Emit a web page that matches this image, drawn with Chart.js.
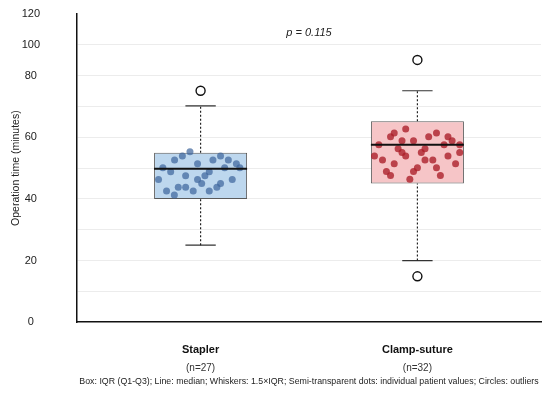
<!DOCTYPE html>
<html>
<head>
<meta charset="utf-8">
<script src="https://cdn.jsdelivr.net/npm/chart.js@4/dist/chart.umd.min.js"></script>
<style>
  body { margin: 0; background: #fff; }
  canvas { display: block; }
</style>
</head>
<body>
<canvas id="chart" width="550" height="393"></canvas>
<script>
var categories = ["Stapler", "Clamp-suture"];
var groupSizes = ["(n=27)", "(n=32)"];
var q1 = [40, 45];
var medians = [49.8, 57.6];
var q3 = [55, 65.2];
var whiskerLow = [25, 20];
var whiskerHigh = [70.2, 75.1];
var outliers = [[75.1], [85.1, 14.9]];

var staplerValues = [55.3, 53.9, 52.6, 50.1, 48.8, 46.3, 42.6, 41.3, 43.8, 43.8, 47.5, 42.6, 51.4, 46.3,
  45.0, 47.5, 48.8, 42.6, 52.6, 43.8, 45.0, 53.9, 50.1, 52.6, 46.3, 51.4, 50.1];
var staplerJitter = [-0.049, -0.084, -0.120, -0.174, -0.138, -0.194, -0.157, -0.121, -0.103, -0.069, -0.069,
  -0.034, -0.014, -0.014, 0.005, 0.020, 0.040, 0.040, 0.057, 0.075, 0.092, 0.092, 0.111, 0.128, 0.146, 0.165, 0.181];
var clampValues = [62.7, 61.4, 60.2, 57.6, 53.9, 52.6, 48.9, 47.6, 51.4, 56.3, 55.1, 53.9, 58.9, 58.9, 48.9,
  50.1, 46.4, 55.1, 56.3, 52.6, 60.2, 52.6, 61.4, 50.1, 47.6, 57.6, 60.2, 58.9, 53.9, 51.4, 55.1, 57.6];
var clampJitter = [-0.054, -0.107, -0.124, -0.178, -0.198, -0.161, -0.143, -0.124, -0.107, -0.089, -0.071,
  -0.054, -0.071, -0.018, -0.018, 0, -0.035, 0.018, 0.035, 0.035, 0.052, 0.071, 0.088, 0.088, 0.106, 0.123,
  0.141, 0.160, 0.141, 0.176, 0.195, 0.195];

var yTickValues = [0, 20, 40, 60, 80, 90, 100];
var yTickLabels = ["0", "20", "40", "60", "80", "100", "120"];
var pValueText = "p = 0.115";
var pValueAt = { x: 1.5, y: 93.8 };
var footnote = "Box: IQR (Q1-Q3); Line: median; Whiskers: 1.5\u00d7IQR; Semi-transparent dots: individual patient values; Circles: outliers";

var boxWidth = 0.429;
var capHalf = 0.07;
var fontFamily = "'Liberation Sans', Arial, Helvetica, sans-serif";

function groupPositions() {
  return categories.map(function(c, i) { return i + 1; });
}

function jitterPoints(values, jitter, center) {
  return values.map(function(v, i) { return { x: center + jitter[i], y: v }; });
}

var positions = groupPositions();
var datasets = [];

datasets.push({
  type: "bar",
  data: positions.map(function(p, i) { return { x: p, y: [q1[i], q3[i]] }; }),
  backgroundColor: ["#bdd7ee", "#f6c5c7"],
  borderColor: "#5a5a5a",
  borderWidth: 1,
  borderSkipped: false,
  categoryPercentage: boxWidth,
  barPercentage: 1,
  order: 4
});

positions.forEach(function(p, i) {
  // dotted whiskers
  datasets.push({
    type: "line",
    data: [{ x: p, y: whiskerLow[i] }, { x: p, y: q1[i] }, { x: p, y: null }, { x: p, y: q3[i] }, { x: p, y: whiskerHigh[i] }],
    borderColor: "#222",
    borderWidth: 1.2,
    borderDash: [2, 2],
    pointRadius: 0,
    spanGaps: false,
    order: 5
  });
  // caps
  datasets.push({
    type: "line",
    data: [{ x: p - capHalf, y: whiskerLow[i] }, { x: p + capHalf, y: whiskerLow[i] }, { x: p, y: null },
      { x: p - capHalf, y: whiskerHigh[i] }, { x: p + capHalf, y: whiskerHigh[i] }],
    borderColor: "#333",
    borderWidth: 1.2,
    pointRadius: 0,
    spanGaps: false,
    order: 5
  });
  // median
  datasets.push({
    type: "line",
    data: [{ x: p - boxWidth / 2, y: medians[i] }, { x: p + boxWidth / 2, y: medians[i] }],
    borderColor: "#111",
    borderWidth: 2,
    pointRadius: 0,
    order: 0
  });
  datasets.push({
    type: "scatter",
    data: outliers[i].map(function(v) { return { x: p, y: v }; }),
    pointRadius: 4.5,
    backgroundColor: "#fff",
    borderColor: "#111",
    borderWidth: 1.4,
    order: 1
  });
});

datasets.push({
  type: "scatter",
  data: jitterPoints(staplerValues, staplerJitter, positions[0]),
  pointRadius: 3.5,
  borderWidth: 0,
  backgroundColor: "rgba(60,100,155,0.7)",
  order: 2
});
datasets.push({
  type: "scatter",
  data: jitterPoints(clampValues, clampJitter, positions[1]),
  pointRadius: 3.5,
  borderWidth: 0,
  backgroundColor: "rgba(170,30,40,0.78)",
  order: 2
});

function categoryTicks(scale) {
  scale.ticks = positions.map(function(p) { return { value: p }; });
}

var pValuePlugin = {
  id: "pValue",
  afterDraw: function(chart) {
    var ctx = chart.ctx;
    ctx.save();
    ctx.font = "italic 11px " + fontFamily;
    ctx.fillStyle = "#222";
    ctx.textAlign = "center";
    ctx.textBaseline = "middle";
    ctx.fillText(pValueText, chart.scales.x.getPixelForValue(pValueAt.x), chart.scales.y.getPixelForValue(pValueAt.y));
    ctx.restore();
  }
};

new Chart(document.getElementById("chart").getContext("2d"), {
  type: "scatter",
  data: { datasets: datasets },
  plugins: [pValuePlugin],
  options: {
    responsive: false,
    animation: false,
    devicePixelRatio: 1,
    layout: { padding: { left: 5, right: 9, top: 14, bottom: 0 } },
    plugins: {
      legend: { display: false },
      tooltip: { enabled: false },
      title: {
        display: true,
        position: "bottom",
        fullSize: false,
        text: footnote,
        color: "#222",
        font: { family: fontFamily, size: 8.8, weight: "normal" },
        padding: { top: 1.6, bottom: 6.6 }
      }
    },
    scales: {
      x: {
        type: "linear",
        position: "bottom",
        offset: false,
        min: 0.43,
        max: 2.57,
        weight: 0,
        afterBuildTicks: categoryTicks,
        afterFit: function(scale) { scale.height = 34.6; },
        grid: { display: false, drawTicks: false, offset: false },
        border: { display: true, color: "#111", width: 1.5 },
        ticks: {
          autoSkip: false,
          maxRotation: 0,
          padding: 21.4,
          color: "#111",
          font: { family: fontFamily, size: 11, weight: "bold" },
          callback: function(value) { return categories[positions.indexOf(value)] || ""; }
        }
      },
      xn: {
        type: "linear",
        position: "bottom",
        axis: "x",
        offset: false,
        min: 0.43,
        max: 2.57,
        weight: 1,
        afterBuildTicks: categoryTicks,
        afterFit: function(scale) { scale.height = 17.4; },
        grid: { display: false, drawTicks: false },
        border: { display: false },
        ticks: {
          autoSkip: false,
          maxRotation: 0,
          padding: 5.4,
          color: "#333",
          font: { family: fontFamily, size: 10 },
          callback: function(value) { return groupSizes[positions.indexOf(value)] || ""; }
        }
      },
      y: {
        type: "linear",
        min: 0,
        max: 100,
        afterFit: function(scale) {
          scale.width = 72;
          scale.paddingTop = 7;
          scale.paddingBottom = 7;
        },
        grid: {
          drawTicks: false,
          lineWidth: 1,
          color: function(ctx) {
            if (ctx.tick && (ctx.tick.value === 0 || ctx.tick.value === 100)) return "rgba(0,0,0,0)";
            return "#ececec";
          }
        },
        border: { display: true, color: "#111", width: 1.5 },
        title: {
          display: true,
          text: "Operation time (minutes)",
          color: "#222",
          font: { family: fontFamily, size: 10.5 },
          padding: { top: 5.2, bottom: 0 }
        },
        ticks: {
          stepSize: 10,
          autoSkip: false,
          crossAlign: "center",
          padding: 37,
          color: "#222",
          font: { family: fontFamily, size: 11 },
          callback: function(value) {
            var idx = yTickValues.indexOf(value);
            return idx >= 0 ? yTickLabels[idx] : "";
          }
        }
      }
    }
  }
});
</script>
</body>
</html>
